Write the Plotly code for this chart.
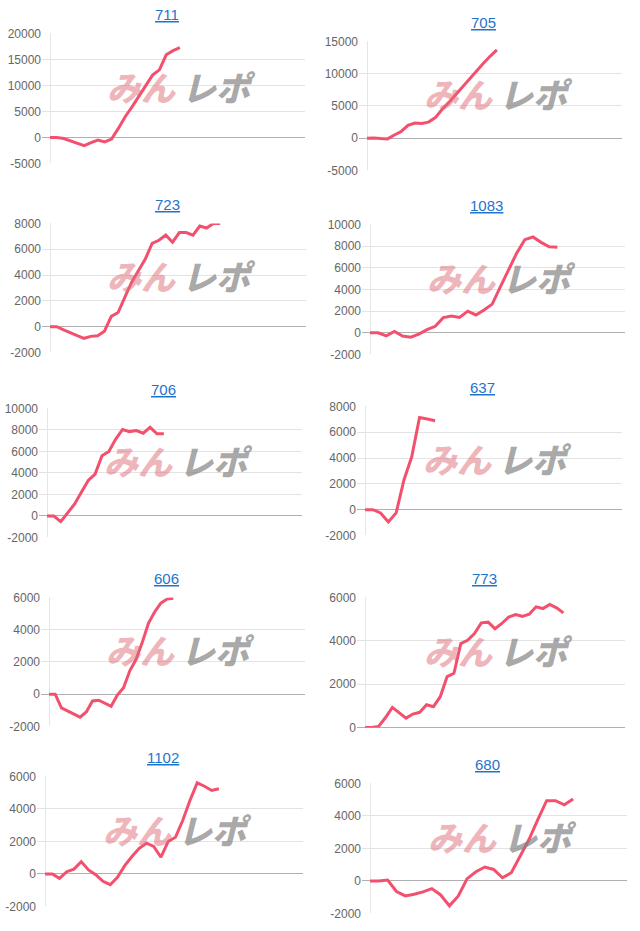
import plotly.graph_objects as go

# ---------------- data ----------------
machine_numbers = ["711", "705", "723", "1083", "706", "637", "606", "773", "1102", "680"]

diff_711 = [0, 0, -200, -700, -1150, -1550, -1000, -500, -850, -300, 1750, 4000,
            5900, 8000, 10100, 12000, 13000, 15900, 16700, 17300]
diff_705 = [0, 50, -50, -100, 500, 1050, 2000, 2350, 2300, 2500, 3200, 4500,
            5600, 6800, 8000, 9300, 10450, 11600, 12700, 13700]
diff_723 = [0, 0, -250, -500, -700, -900, -750, -700, -350, 800, 1100, 2300, 3450,
            4350, 5250, 6450, 6700, 7100, 6550, 7300, 7300, 7100, 7800, 7650, 8000, 8000]
diff_1083 = [0, 0, -280, 120, -300, -400, -120, 300, 600, 1400, 1550, 1420, 2000,
             1650, 2100, 2650, 4250, 5800, 7350, 8600, 8850, 8350, 7950, 7900]
diff_706 = [0, 0, -530, 250, 1100, 2200, 3300, 3900, 5600, 6000, 7150, 8050, 7850,
            7950, 7700, 8250, 7650, 7650]
diff_637 = [0, 0, -250, -950, -250, 2300, 4100, 7150, 7030, 6900]
diff_606 = [0, 0, -850, -1050, -1200, -1420, -1100, -420, -370, -580, -750, -50,
            400, 1450, 2150, 3200, 4400, 5100, 5650, 5900, 5950]
diff_773 = [0, 0, 50, 460, 930, 700, 430, 620, 700, 1050, 960, 1420, 2350, 2500,
            3870, 4020, 4330, 4830, 4860, 4560, 4800, 5100, 5210, 5130, 5230, 5570,
            5490, 5680, 5520, 5290]
diff_1102 = [0, 0, -270, 140, 300, 760, 250, -40, -450, -660, -200, 510, 1070, 1580,
             1890, 1690, 1030, 2000, 2260, 3290, 4520, 5610, 5400, 5140, 5240]
diff_680 = [0, 0, 60, -650, -920, -820, -670, -470, -860, -1530, -920, 140, 570, 860,
            710, 200, 510, 1530, 2550, 3780, 4940, 4940, 4690, 5040]

series = [diff_711, diff_705, diff_723, diff_1083, diff_706,
          diff_637, diff_606, diff_773, diff_1102, diff_680]

# y-axis ranges and tick steps
y_ranges = [(-5000, 20000), (-5000, 15000), (-2000, 8000), (-2000, 10000), (-2000, 10000),
            (-2000, 8000), (-2000, 6000), (0, 6000), (-2000, 6000), (-2000, 6000)]
y_steps = [5000, 5000, 2000, 2000, 2000, 2000, 2000, 2000, 2000, 2000]

# ---------------- layout geometry (pixels) ----------------
W, H = 640, 931
# (x of first point / baseline, right edge, top gridline, bottom gridline)
boxes = [(50, 305, 33, 163), (367, 622, 41, 170),
         (50, 306, 223, 352), (370, 625, 224, 354),
         (47, 302, 408, 537), (365, 622, 406, 535),
         (49, 305, 597, 726), (365, 625, 597, 727),
         (45, 303, 776, 906), (370, 627, 783, 913)]
x_slots = [37.3, 37.3, 37.6, 31.3, 37.1, 33.0, 41.2, 38.0, 35.6, 29.1]
LEFT_PAD = 8  # chart area extends this far left of the baseline


def vy(p):
    # vertical placement correction for the rendered page
    return (p - 6.5) / 0.985


LINE = "#f3506e"
TITLE = "#1f74cc"
TICK = "#666666"
FONT = "Liberation Sans, Arial, sans-serif"

fig = go.Figure()
annotations = []
layout = {}

for i, (name, vals) in enumerate(zip(machine_numbers, series)):
    k = "" if i == 0 else str(i + 1)
    x0, x1, yt, yb = boxes[i]
    px_per_slot = (x1 - x0) / x_slots[i]
    fig.add_trace(go.Scatter(
        x=list(range(len(vals))), y=vals, mode="lines",
        line=dict(color=LINE, width=3), xaxis="x" + k, yaxis="y" + k,
        showlegend=False, hoverinfo="skip"))
    lo, hi = y_ranges[i]
    step = y_steps[i]
    tv = list(range(lo, hi + 1, step))
    layout["xaxis" + k] = dict(
        domain=[(x0 - LEFT_PAD) / W, x1 / W],
        range=[-LEFT_PAD / px_per_slot, x_slots[i]], anchor="y" + k,
        showgrid=False, zeroline=True, zerolinecolor="#e6e6e6", zerolinewidth=1,
        showticklabels=False, showline=False, fixedrange=True)
    layout["yaxis" + k] = dict(
        domain=[1 - vy(yb) / H, 1 - vy(yt) / H], range=[lo, hi], anchor="x" + k,
        tickvals=tv, ticktext=[str(v) for v in tv],
        showgrid=True, gridcolor="#e3e3e3", gridwidth=1,
        zeroline=True, zerolinecolor="#b0b0b0", zerolinewidth=1,
        showline=False, ticks="", ticklen=0,
        tickfont=dict(family=FONT, size=12, color=TICK), fixedrange=True)
    xd, yd = "x" + k + " domain", "y" + k + " domain"
    annotations.append(dict(
        text="<u>" + name + "</u>", xref=xd, yref=yd, x=0.5, y=1, xshift=-7, yshift=19,
        xanchor="center", yanchor="middle", showarrow=False,
        font=dict(family=FONT, size=15, color=TITLE)))
    # watermark
    annotations.append(dict(
        text="みん", xref=xd, yref=yd, x=0.5, y=0.5, xshift=4, yshift=12,
        xanchor="right", yanchor="middle", showarrow=False,
        font=dict(family="Noto Sans CJK JP", size=34, color="rgba(222,110,120,0.5)",
                  weight=900, style="italic")))
    annotations.append(dict(
        text="レポ", xref=xd, yref=yd, x=0.5, y=0.5, xshift=6, yshift=12,
        xanchor="left", yanchor="middle", showarrow=False,
        font=dict(family="Noto Sans CJK JP", size=34, color="rgba(130,130,130,0.7)",
                  weight=900, style="italic")))

fig.update_layout(
    width=W, height=H, margin=dict(l=0, r=0, t=0, b=0),
    paper_bgcolor="white", plot_bgcolor="white",
    annotations=annotations, **layout)

fig.write_html("out.html", config={"displayModeBar": False},
               post_script="document.body.style.margin='0';")
